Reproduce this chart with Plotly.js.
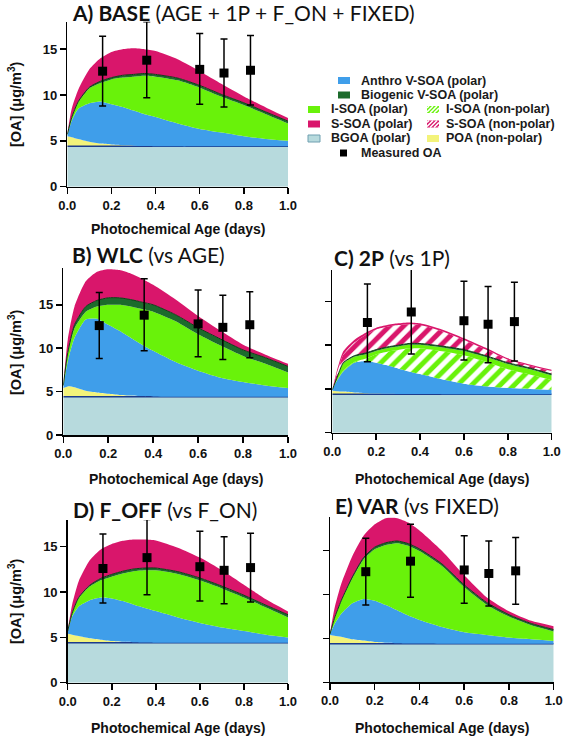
<!DOCTYPE html>
<html><head><meta charset="utf-8">
<script src="https://cdn.plot.ly/plotly-3.0.1.min.js"></script>
<style>html,body{margin:0;padding:0;background:#fff}#chart{width:567px;height:737px}</style>
</head><body><div id="chart"></div>
<script>
// ---------- data ----------
const ages = [0, 0.02, 0.05, 0.1, 0.15, 0.2, 0.25, 0.3, 0.35, 0.4, 0.5, 0.6, 0.7, 0.8, 0.9, 1.0];
const bgoa = [4.4, 4.4, 4.4, 4.4, 4.4, 4.4, 4.4, 4.4, 4.4, 4.4, 4.4, 4.4, 4.4, 4.4, 4.4, 4.4];

const A_poa    = [1.1, 1.0, 0.8, 0.5, 0.3, 0.2, 0.12, 0.08, 0.04, 0.02, 0, 0, 0, 0, 0, 0];
const A_anthro = [0.1, 1.8, 3.3, 4.2, 4.6, 4.4, 4.18, 3.82, 3.46, 3.18, 2.5, 1.9, 1.5, 1.1, 0.8, 0.6];
const A_isoa   = [0.1, 0.3, 0.7, 1.6, 2.0, 2.7, 3.2, 3.7, 4.2, 4.4, 4.7, 4.5, 3.9, 3.4, 2.7, 1.9];
const A_bio    = [0, 0.05, 0.1, 0.15, 0.2, 0.2, 0.25, 0.25, 0.25, 0.25, 0.25, 0.25, 0.25, 0.25, 0.25, 0.25];
const A_ssoa   = [0.1, 0.95, 1.3, 1.95, 2.5, 2.8, 2.85, 2.85, 2.65, 2.55, 2.05, 1.55, 1.15, 0.7, 0.5, 0.35];

const B_poa    = [1.0, 1.2, 1.1, 0.7, 0.5, 0.35, 0.22, 0.15, 0.08, 0.04, 0, 0, 0, 0, 0, 0];
const B_anthro = [0.2, 2.9, 5.7, 8.2, 8.5, 7.95, 7.38, 6.65, 5.92, 5.26, 4.0, 3.0, 2.2, 1.7, 1.3, 1.0];
const B_isoa   = [0.1, 0.8, 1.1, 0.9, 1.4, 2.3, 3.0, 3.6, 4.1, 4.5, 4.7, 4.2, 3.7, 3.0, 2.5, 1.8];
const B_bio    = [0, 0.2, 0.4, 0.6, 0.7, 0.8, 0.8, 0.8, 0.8, 0.8, 0.75, 0.75, 0.75, 0.7, 0.7, 0.7];
const B_ssoa   = [0.1, 1.5, 2.1, 2.9, 3.3, 3.3, 3.2, 3.0, 2.7, 2.3, 1.75, 1.35, 0.95, 0.6, 0.35, 0.3];

const C_poa     = [0.4, 0.35, 0.3, 0.2, 0.12, 0.08, 0.05, 0.03, 0.02, 0.01, 0, 0, 0, 0, 0, 0];
const C_anthro  = [0.1, 1.15, 2.3, 3.4, 3.68, 3.52, 3.25, 2.92, 2.58, 2.29, 1.7, 1.2, 0.9, 0.7, 0.6, 0.5];
const C_isoaNP  = [0, 0, 0.1, 0.08, 0.25, 0.95, 1.55, 2.1, 2.65, 2.95, 3.2, 3.25, 2.8, 2.15, 1.65, 1.1];
const C_isoa    = [0, 0.25, 0.8, 0.6, 0.5, 0.4, 0.4, 0.4, 0.4, 0.4, 0.45, 0.5, 0.55, 0.6, 0.6, 0.55];
const C_bio     = [0, 0.05, 0.1, 0.12, 0.15, 0.15, 0.15, 0.15, 0.15, 0.15, 0.15, 0.15, 0.15, 0.15, 0.15, 0.15];
const C_ssoaNP  = [0, 0.5, 0.9, 1.5, 2.05, 2.3, 2.3, 2.3, 2.2, 2.1, 1.7, 1.1, 0.7, 0.35, 0.25, 0.35];
const C_ssoa    = [0, 0.3, 0.4, 0.3, 0.25, 0.2, 0.2, 0.2, 0.2, 0.2, 0.2, 0.2, 0.2, 0.15, 0.15, 0.15];

const D_poa    = [1.0, 0.9, 0.75, 0.5, 0.35, 0.2, 0.12, 0.07, 0.04, 0.02, 0, 0, 0, 0, 0, 0];
const D_anthro = [0.2, 2.0, 3.25, 4.2, 4.65, 4.7, 4.48, 4.13, 3.81, 3.48, 2.8, 2.2, 1.7, 1.3, 0.9, 0.6];
const D_isoa   = [0.1, 0.3, 0.9, 1.5, 1.9, 2.4, 3.05, 3.7, 4.15, 4.5, 4.8, 4.7, 4.3, 3.7, 3.0, 2.2];
const D_bio    = [0, 0.05, 0.1, 0.15, 0.2, 0.25, 0.25, 0.25, 0.25, 0.25, 0.25, 0.25, 0.25, 0.25, 0.25, 0.3];
const D_ssoa   = [0.1, 0.95, 1.8, 2.75, 3.2, 3.35, 3.35, 3.25, 3.15, 3.05, 2.65, 2.25, 1.75, 1.15, 0.65, 0.35];

const E_poa    = [1.0, 0.9, 0.8, 0.5, 0.35, 0.2, 0.12, 0.06, 0.03, 0.02, 0, 0, 0, 0, 0, 0];
const E_anthro = [0.1, 1.3, 2.6, 4.1, 4.75, 4.7, 4.28, 3.74, 3.17, 2.68, 1.9, 1.3, 1.0, 0.7, 0.5, 0.3];
const E_isoa   = [0, 0.65, 1.4, 2.85, 4.5, 5.85, 6.85, 7.65, 7.95, 7.85, 6.95, 5.15, 3.45, 2.4, 1.6, 1.1];
const E_bio    = [0, 0.05, 0.1, 0.15, 0.2, 0.25, 0.25, 0.25, 0.25, 0.25, 0.25, 0.25, 0.25, 0.2, 0.2, 0.2];
const E_ssoa   = [0.1, 1.1, 1.9, 2.4, 2.5, 2.6, 2.8, 2.6, 2.4, 2.1, 1.5, 1.1, 0.6, 0.4, 0.3, 0.4];

const measAge = [0.16, 0.36, 0.60, 0.71, 0.83];
const measOA  = [12.6, 13.8, 12.8, 12.4, 12.7];
const measHi  = [16.4, 18.0, 16.7, 16.1, 16.5];
const measLo  = [8.8, 9.7, 9.0, 8.7, 8.9];
const measHiC = [17.0, 18.7, 17.3, 16.7, 17.2];
const measLoC = [8.1, 9.0, 8.3, 8.0, 8.2];

const panelTitles = [
  '<b>A) BASE</b> (AGE + 1P + F_ON + FIXED)',
  '<b>B) WLC</b> (vs AGE)',
  '<b>C) 2P</b> (vs 1P)',
  '<b>D) F_OFF</b> (vs F_ON)',
  '<b>E) VAR</b> (vs FIXED)'
];
const legendLabels = ['Anthro V-SOA (polar)', 'Biogenic V-SOA (polar)', 'I-SOA (polar)', 'I-SOA (non-polar)',
  'S-SOA (polar)', 'S-SOA (non-polar)', 'BGOA (polar)', 'POA (non-polar)', 'Measured OA'];
const yTicks = [0, 5, 10, 15];

// ---------- styles ----------
const COL = {bgoa:'#b7dadd', bgoaLine:'#1d3b8c', poa:'#f3f37a', anthro:'#3f9eea', isoa:'#69f20a',
  bio:'#1c6b2c', ssoa:'#d9166b'};
const W = 567, H = 737;
const px = v => v / W, py = v => 1 - v / H;

const panels = [
  {id:'', dom:[67.3, 288, 21.7, 186.7], range:18.0, labels:true},
  {id:'2', dom:[63.3, 288, 268.3, 435], range:19.2, labels:true},
  {id:'3', dom:[332.3, 551.7, 270, 432.7], range:18.6, labels:false},
  {id:'4', dom:[67.7, 288, 520, 682.7], range:17.95, labels:true},
  {id:'5', dom:[330, 553.7, 517.3, 682.3], range:18.8, labels:false}
];

const traces = [];
function area(p, y, color, extra) {
  const t = Object.assign({
    x: ages, y: y, xaxis: 'x' + p.id, yaxis: 'y' + p.id, stackgroup: 's' + (p.id || '1'),
    mode: 'lines', line: {width: 0, shape: 'spline', smoothing: 0.6, color: color},
    fillcolor: color, showlegend: false, hoverinfo: 'skip'
  }, extra || {});
  traces.push(t);
}
function hatch(fg) {
  return {fillpattern: {shape: '/', bgcolor: '#ffffff', fgcolor: fg, size: 10, solidity: 0.5}, fillcolor: '#ffffff'};
}
function meas(p, hi, lo) {
  traces.push({
    x: measAge, y: measOA, xaxis: 'x' + p.id, yaxis: 'y' + p.id, mode: 'markers', cliponaxis: false,
    marker: {symbol: 'square', size: 9, color: '#000'},
    error_y: {type: 'data', symmetric: false, array: hi.map((h, i) => h - measOA[i]),
      arrayminus: lo.map((l, i) => measOA[i] - l), color: '#000', thickness: 1.5, width: 3.5},
    showlegend: false, hoverinfo: 'skip'
  });
}
const bgoaExtra = {line: {width: 1.5, shape: 'spline', color: COL.bgoaLine}};
const bioExtra = {line: {width: 1, shape: 'spline', smoothing: 0.6, color: '#0d3d16'}};

// A
area(panels[0], bgoa, COL.bgoa, bgoaExtra);
area(panels[0], A_poa, COL.poa);
area(panels[0], A_anthro, COL.anthro);
area(panels[0], A_isoa, COL.isoa);
area(panels[0], A_bio, COL.bio, bioExtra);
area(panels[0], A_ssoa, COL.ssoa);
meas(panels[0], measHi, measLo);
// B
area(panels[1], bgoa, COL.bgoa, bgoaExtra);
area(panels[1], B_poa, COL.poa);
area(panels[1], B_anthro, COL.anthro);
area(panels[1], B_isoa, COL.isoa);
area(panels[1], B_bio, COL.bio, bioExtra);
area(panels[1], B_ssoa, COL.ssoa);
meas(panels[1], measHi, measLo);
// C
area(panels[2], bgoa, COL.bgoa, bgoaExtra);
area(panels[2], C_poa, COL.poa);
area(panels[2], C_anthro, COL.anthro);
area(panels[2], C_isoaNP, COL.isoa, hatch(COL.isoa));
area(panels[2], C_isoa, COL.isoa);
area(panels[2], C_bio, COL.bio, bioExtra);
area(panels[2], C_ssoaNP, COL.ssoa, hatch(COL.ssoa));
area(panels[2], C_ssoa, COL.ssoa);
meas(panels[2], measHiC, measLoC);
// D
area(panels[3], bgoa, COL.bgoa, bgoaExtra);
area(panels[3], D_poa, COL.poa);
area(panels[3], D_anthro, COL.anthro);
area(panels[3], D_isoa, COL.isoa);
area(panels[3], D_bio, COL.bio, bioExtra);
area(panels[3], D_ssoa, COL.ssoa);
meas(panels[3], measHi, measLo);
// E
area(panels[4], bgoa, COL.bgoa, bgoaExtra);
area(panels[4], E_poa, COL.poa);
area(panels[4], E_anthro, COL.anthro);
area(panels[4], E_isoa, COL.isoa);
area(panels[4], E_bio, COL.bio, bioExtra);
area(panels[4], E_ssoa, COL.ssoa);
meas(panels[4], measHi, measLo);

// ---------- layout ----------
const tickFont = {family: 'Liberation Sans, Arial, sans-serif', size: 13, weight: 'bold', color: '#111'};
const layout = {
  width: W, height: H, margin: {l: 0, r: 0, t: 0, b: 0}, showlegend: false,
  paper_bgcolor: '#fff', plot_bgcolor: '#fff', annotations: [], shapes: []
};
panels.forEach((p, i) => {
  const base = {showline: true, linecolor: '#000', linewidth: 1.5, ticks: 'outside', ticklen: 6,
    tickwidth: 1.5, tickcolor: '#000', showgrid: false, zeroline: false, tickfont: tickFont, fixedrange: true};
  layout['xaxis' + p.id] = Object.assign({}, base, {domain: [px(p.dom[0]), px(p.dom[1])],
    anchor: 'y' + p.id, range: [0, 1], tickvals: [0, 0.2, 0.4, 0.6, 0.8, 1.0], tickformat: '.1f'});
  layout['yaxis' + p.id] = Object.assign({}, base, {domain: [py(p.dom[3]), py(p.dom[2])],
    anchor: 'x' + p.id, range: [0, p.range], tickvals: yTicks, showticklabels: p.labels});
});

// panel titles
const titlePos = [[70, 12], [70, 255], [332, 257], [71, 510], [333, 505]];
panelTitles.forEach((t, i) => {
  layout.annotations.push({text: t, xref: 'paper', yref: 'paper', x: px(titlePos[i][0]), y: py(titlePos[i][1]),
    xanchor: 'left', yanchor: 'middle', showarrow: false,
    font: {family: 'Lato, Open Sans, sans-serif', size: 21, color: '#111'}});
});
// axis titles
const xTitles = [[178, 229], [176, 479], [442, 479], [178, 728], [442, 728]];
xTitles.forEach(p => layout.annotations.push({text: '<b>Photochemical Age (days)</b>', xref: 'paper', yref: 'paper',
  x: px(p[0]), y: py(p[1]), xanchor: 'center', yanchor: 'middle', showarrow: false,
  font: {family: 'Liberation Sans, Arial, sans-serif', size: 14, color: '#111'}}));
const yTitles = [[15, 104], [15, 352], [15, 601]];
yTitles.forEach(p => layout.annotations.push({text: '<b>[OA] (μg/m<sup>3</sup>)</b>', xref: 'paper', yref: 'paper',
  x: px(p[0]), y: py(p[1]), xanchor: 'center', yanchor: 'middle', textangle: -90, showarrow: false,
  font: {family: 'Liberation Sans, Arial, sans-serif', size: 14.5, color: '#111'}}));

// legend (drawn as shapes + text)
const legFont = {family: 'Liberation Sans, Arial, sans-serif', size: 12.5, color: '#1a1a1a'};
function legIcon(x0, yc, color, border) {
  layout.shapes.push({type: 'rect', xref: 'paper', yref: 'paper', x0: px(x0), x1: px(x0 + 12),
    y0: py(yc + 3.5), y1: py(yc - 3.5), fillcolor: color, line: {width: border ? 1 : 0, color: border || color}});
}
function legHatch(x0, yc, color) {
  legIcon(x0, yc, color);
  const X0 = x0, X1 = x0 + 12, Y0 = yc - 3.5, Y1 = yc + 3.5;
  for (let c = X0 + Y0 + 2; c < X1 + Y1; c += 4) {
    const xa = Math.max(X0, c - Y1), xb = Math.min(X1, c - Y0);
    if (xb <= xa) continue;
    layout.shapes.push({type: 'line', xref: 'paper', yref: 'paper', x0: px(xa), y0: py(c - xa),
      x1: px(xb), y1: py(c - xb), line: {color: '#fff', width: 1.6}});
  }
}
function legText(x, yc, t) {
  layout.annotations.push({text: '<b>' + t + '</b>', xref: 'paper', yref: 'paper', x: px(x), y: py(yc), xanchor: 'left',
    yanchor: 'middle', showarrow: false, font: legFont});
}
const rows = [80.5, 95, 109.5, 124, 138.5, 153];
legIcon(338, rows[0], COL.anthro); legText(359, rows[0], legendLabels[0]);
legIcon(338, rows[1], COL.bio); legText(359, rows[1], legendLabels[1]);
legIcon(308, rows[2], COL.isoa); legText(329, rows[2], legendLabels[2]);
legHatch(427, rows[2], COL.isoa); legText(444, rows[2], legendLabels[3]);
legIcon(308, rows[3], COL.ssoa); legText(329, rows[3], legendLabels[4]);
legHatch(427, rows[3], COL.ssoa); legText(444, rows[3], legendLabels[5]);
legIcon(308, rows[4], COL.bgoa, '#6f9fb0'); legText(329, rows[4], legendLabels[6]);
legIcon(427, rows[4], COL.poa); legText(444, rows[4], legendLabels[7]);
layout.shapes.push({type: 'rect', xref: 'paper', yref: 'paper', x0: px(340), x1: px(347),
  y0: py(rows[5] + 3.5), y1: py(rows[5] - 3.5), fillcolor: '#000', line: {width: 0}});
legText(359, rows[5], legendLabels[8]);

Plotly.newPlot('chart', traces, layout, {staticPlot: true, displayModeBar: false});
</script></body></html>
